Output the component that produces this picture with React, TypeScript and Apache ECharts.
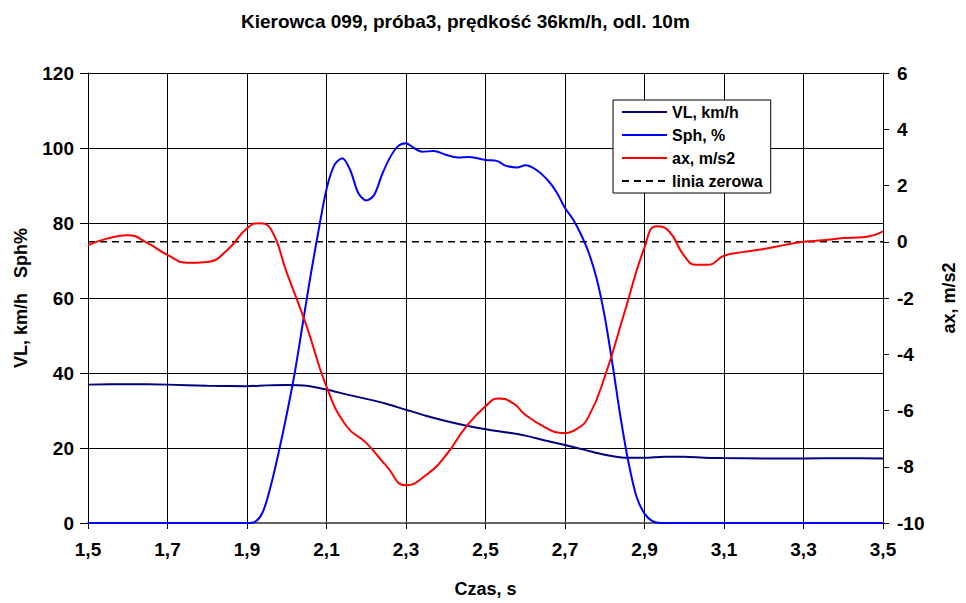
import React, { useEffect, useRef } from "react";
import * as echarts from "echarts";

const titleText = "Kierowca 099, próba3, prędkość 36km/h, odl. 10m";

const vlTime = [1.5, 1.6, 1.7, 1.8, 1.9, 1.95, 2.0, 2.05, 2.1, 2.15, 2.2, 2.25, 2.3, 2.35, 2.4, 2.45, 2.5, 2.55, 2.6, 2.65, 2.7, 2.75, 2.8, 2.85, 2.9, 2.95, 3.0, 3.05, 3.1, 3.2, 3.3, 3.4, 3.5];
const vlValues = [36.9, 37.0, 36.9, 36.6, 36.5, 36.7, 36.8, 36.6, 35.6, 34.3, 33.1, 31.8, 30.2, 28.6, 27.2, 26.0, 25.0, 24.2, 23.3, 22.0, 20.8, 19.5, 18.2, 17.4, 17.4, 17.7, 17.7, 17.4, 17.3, 17.2, 17.2, 17.3, 17.2];

const sphTime = [1.5, 1.9, 1.92, 1.94, 1.96, 1.98, 2.0, 2.02, 2.04, 2.06, 2.08, 2.1, 2.12, 2.14, 2.16, 2.18, 2.2, 2.22, 2.24, 2.26, 2.28, 2.3, 2.32, 2.34, 2.37, 2.4, 2.43, 2.46, 2.5, 2.53, 2.55, 2.58, 2.6, 2.63, 2.66, 2.68, 2.7, 2.72, 2.74, 2.76, 2.78, 2.8, 2.82, 2.84, 2.86, 2.88, 2.9, 2.92, 2.94, 3.5];
const sphValues = [0, 0, 0.3, 3, 10, 19, 29, 40, 53, 66, 78, 89, 95.5, 97.3, 94, 88, 86, 87.5, 93, 97.5, 100.5, 101.3, 100, 99, 99.2, 98.2, 97.5, 97.6, 96.8, 96.5, 95.3, 94.8, 95.4, 94, 91, 88, 84, 81, 77, 72, 65, 55, 42, 28, 16, 7, 2.5, 0.5, 0, 0];

const axTime = [1.5, 1.55, 1.6, 1.65, 1.7, 1.75, 1.8, 1.85, 1.9, 1.93, 1.96, 2.0, 2.05, 2.1, 2.15, 2.2, 2.25, 2.3, 2.35, 2.4, 2.45, 2.5, 2.533, 2.57, 2.6, 2.65, 2.69, 2.73, 2.76, 2.8, 2.85, 2.9, 2.93, 2.96, 3.0, 3.03, 3.06, 3.1, 3.15, 3.2, 3.25, 3.3, 3.35, 3.4, 3.45, 3.5];
const axValues = [-0.12, 0.12, 0.23, -0.05, -0.47, -0.75, -0.72, -0.3, 0.48, 0.66, 0.45, -1.1, -3.0, -5.15, -6.55, -7.15, -7.96, -8.66, -8.3, -7.6, -6.6, -5.85, -5.57, -5.75, -6.15, -6.6, -6.8, -6.65, -6.2, -4.8, -2.5, -0.2, 0.55, 0.4, -0.5, -0.82, -0.82, -0.5, -0.36, -0.26, -0.12, 0.0, 0.05, 0.13, 0.16, 0.37];

const zeroTime = [1.5, 3.5];
const zeroValues = [0, 0];

const X0 = 1.5;
const toPairs = (t: number[], v: number[]) => t.map((x, i) => [x - X0, v[i]]);

const font = "Liberation Sans, Arial, sans-serif";

export default function App() {
  const ref = useRef<HTMLDivElement>(null);
  useEffect(() => {
    if (!ref.current) return;
    const chart = echarts.init(ref.current, undefined, { renderer: "svg" });
    const labelStyle = { color: "#000", fontWeight: "bold" as const, fontSize: 19, fontFamily: font };
    const nameStyle = { color: "#000", fontWeight: "bold" as const, fontSize: 18, fontFamily: font };
    chart.setOption({
      animation: false,
      backgroundColor: "#fff",
      title: {
        text: titleText,
        left: 236,
        top: 7,
        textStyle: { color: "#000", fontWeight: "bold", fontSize: 19, fontFamily: font },
      },
      legend: {
        orient: "vertical",
        left: 613,
        top: 100,
        padding: [4, 8, 4, 8],
        itemGap: 7,
        itemWidth: 45,
        itemHeight: 18,
        borderColor: "#000",
        borderWidth: 1,
        backgroundColor: "#fff",
        itemStyle: { opacity: 0 },
        textStyle: { color: "#000", fontWeight: "bold", fontSize: 16, fontFamily: font },
        data: ["VL, km/h", "Sph, %", "ax, m/s2", "linia zerowa"],
      },
      grid: { left: 88, right: 71, top: 73, bottom: 75, containLabel: false },
      xAxis: {
        type: "value",
        min: 0,
        max: 2,
        interval: 0.2,
        name: "Czas, s",
        nameLocation: "middle",
        nameGap: 57,
        nameTextStyle: nameStyle,
        axisLine: { show: true, onZero: false, lineStyle: { color: "#666", width: 2 } },
        axisTick: { show: true, length: 6, lineStyle: { color: "#000" } },
        axisLabel: {
          ...labelStyle,
          margin: 17,
          formatter: (v: number) => (v + X0).toFixed(1).replace(".", ","),
        },
        splitLine: { show: true, lineStyle: { color: "#000", width: 1 } },
      },
      yAxis: [
        {
          type: "value",
          min: 0,
          max: 120,
          interval: 20,
          name: "VL, km/h   Sph%",
          nameLocation: "middle",
          nameGap: 58,
          nameTextStyle: nameStyle,
          axisLine: { show: true, lineStyle: { color: "#000" } },
          axisTick: { show: true, length: 8, lineStyle: { color: "#000" } },
          axisLabel: { ...labelStyle, margin: 14 },
          splitLine: { show: true, lineStyle: { color: "#000", width: 1 } },
        },
        {
          type: "value",
          min: -10,
          max: 6,
          interval: 2,
          name: "ax, m/s2",
          nameLocation: "middle",
          nameGap: 57,
          nameRotate: 90,
          nameTextStyle: nameStyle,
          axisLine: { show: true, lineStyle: { color: "#000" } },
          axisTick: { show: true, length: 6, lineStyle: { color: "#000" } },
          axisLabel: { ...labelStyle, margin: 14 },
          splitLine: { show: false },
        },
      ],
      series: [
        {
          name: "VL, km/h",
          type: "line",
          yAxisIndex: 0,
          data: toPairs(vlTime, vlValues),
          symbol: "none",
          smooth: 0.3,
          lineStyle: { color: "#000080", width: 2 },
          itemStyle: { color: "#000080" },
          z: 3,
        },
        {
          name: "Sph, %",
          type: "line",
          yAxisIndex: 0,
          data: toPairs(sphTime, sphValues),
          symbol: "none",
          smooth: 0.3,
          lineStyle: { color: "#0000FF", width: 2 },
          itemStyle: { color: "#0000FF" },
          z: 4,
        },
        {
          name: "ax, m/s2",
          type: "line",
          yAxisIndex: 1,
          data: toPairs(axTime, axValues),
          symbol: "none",
          smooth: 0.5,
          lineStyle: { color: "#FF0000", width: 2 },
          itemStyle: { color: "#FF0000" },
          z: 5,
        },
        {
          name: "linia zerowa",
          type: "line",
          yAxisIndex: 1,
          data: toPairs(zeroTime, zeroValues),
          symbol: "none",
          lineStyle: { color: "#000", width: 1.5, type: [7, 5] },
          itemStyle: { color: "#000" },
          z: 2,
        },
      ],
    });
    return () => chart.dispose();
  }, []);
  return <div ref={ref} style={{ position: "fixed", left: 0, top: 0, width: 966, height: 603 }} />;
}
